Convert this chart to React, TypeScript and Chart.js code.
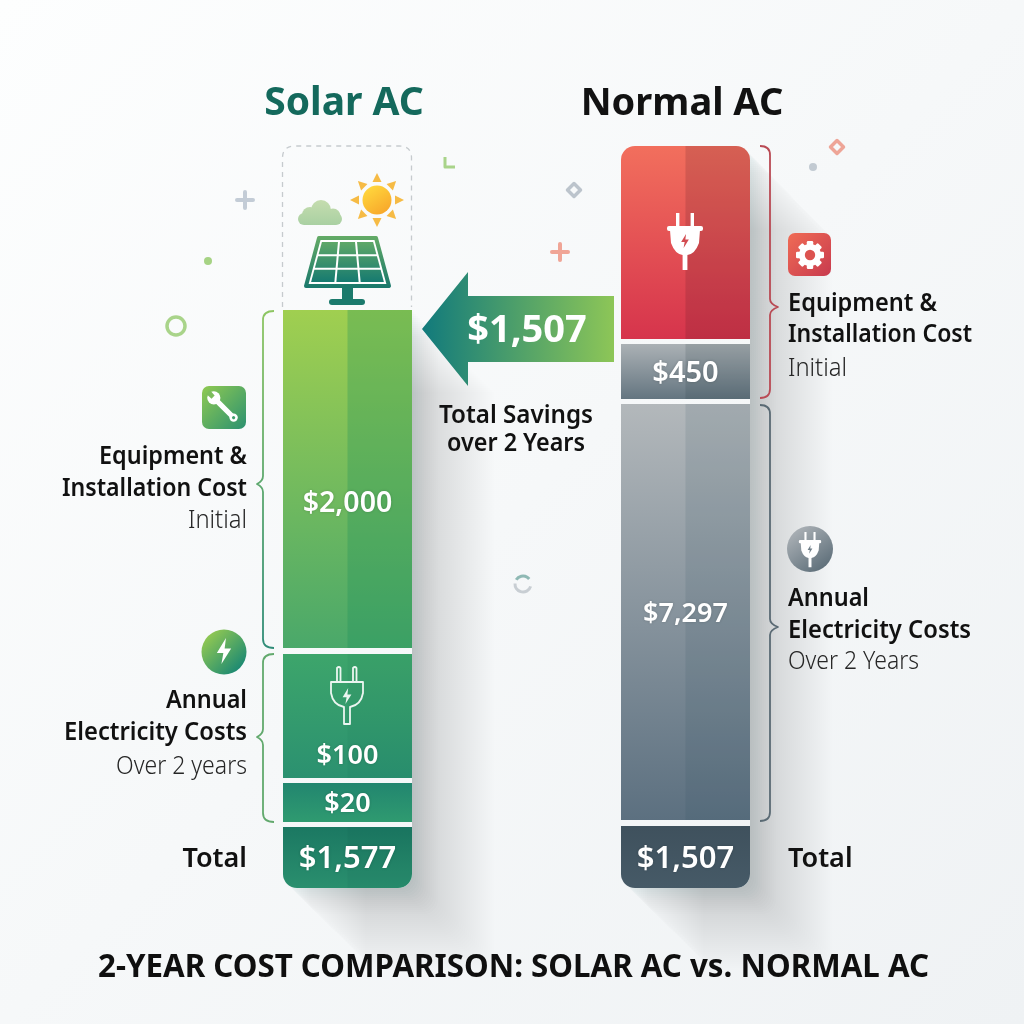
import React, { useEffect, useRef } from "react";
import { Chart, registerables } from "chart.js";
Chart.register(...registerables);

// Visible lengths of the bar segments, bottom to top
// (the infographic's bars are not proportional to their printed amounts).
const categories = ["Solar AC", "Normal AC"];
const solarLengths = [61, 39, 124, 338];
const normalLengths = [62, 416, 55, 193];
const solarGaps = [5, 5, 6];
const normalGaps = [6, 5, 5];
const solarLabels = ["$1,577", "$20", "$100", "$2,000"];
const normalLabels = ["$1,507", "$7,297", "$450", ""];
const solarLabelShift = [0, 0, 38, 23];
const normalLabelShift = [0, 0, 0, 0];
const solarLabelSize = [31, 27, 27, 28.5];
const normalLabelSize = [31, 27, 29, 27];
const solarGradients = [
  ["#1b7862", "#2a8f6e"],
  ["#22866f", "#2f9a70"],
  ["#3da56b", "#2b9170"],
  ["#a0cf50", "#4aa86a"],
];
const normalGradients = [
  ["#3f515d", "#465a67"],
  ["#b3b8bb", "#5c7080"],
  ["#abb1b5", "#647580"],
  ["#f26f5d", "#d6344c"],
];
const solarOverlay = ["rgba(0,60,50,0.05)", "rgba(0,60,50,0.0)", "rgba(0,70,60,0.05)", "rgba(20,140,90,0.28)"];
const normalOverlay = ["rgba(0,0,0,0.0)", "rgba(40,70,90,0.12)", "rgba(30,50,60,0.14)", "rgba(70,20,30,0.16)"];

const SANS = "'Noto Sans', 'Open Sans', sans-serif";

function spans(lengths: number[], gaps: number[]) {
  let at = 0;
  return lengths.map((len, i) => {
    const s: [number, number] = [at, at + len];
    at += len + (gaps[i] || 0);
    return s;
  });
}
const solarSpans = spans(solarLengths, solarGaps);
const normalSpans = spans(normalLengths, normalGaps);

function radii(barIndex: number, seg: number) {
  const r = 14;
  if (seg === 0) return { topLeft: 0, topRight: 0, bottomLeft: r, bottomRight: r };
  if (seg === 3 && barIndex === 1) return { topLeft: r, topRight: r, bottomLeft: 0, bottomRight: 0 };
  return 0;
}

type C = CanvasRenderingContext2D;

function text(c: C, s: string, x: number, y: number, font: string, color: string, align: CanvasTextAlign = "left", maxWidth?: number) {
  c.font = font;
  c.fillStyle = color;
  c.textAlign = align;
  c.textBaseline = "middle";
  if (maxWidth) c.fillText(s, x, y + 2, maxWidth);
  else c.fillText(s, x, y + 2);
}

function lin(c: C, x0: number, y0: number, x1: number, y1: number, a: string, b: string) {
  const g = c.createLinearGradient(x0, y0, x1, y1);
  g.addColorStop(0, a);
  g.addColorStop(1, b);
  return g;
}

function brace(c: C, endX: number, spineX: number, tipX: number, top: number, tip: number, bottom: number, stroke: string | CanvasGradient) {
  const r = 9;
  c.beginPath();
  c.moveTo(endX, top);
  c.quadraticCurveTo(spineX, top, spineX, top + r);
  c.lineTo(spineX, tip - 8);
  c.quadraticCurveTo(spineX, tip - 3, tipX, tip);
  c.quadraticCurveTo(spineX, tip + 3, spineX, tip + 8);
  c.lineTo(spineX, bottom - r);
  c.quadraticCurveTo(spineX, bottom, endX, bottom);
  c.strokeStyle = stroke;
  c.lineWidth = 1.8;
  c.stroke();
}

function plus(c: C, x: number, y: number, arm: number, color: string) {
  c.strokeStyle = color;
  c.lineWidth = 4;
  c.lineCap = "round";
  c.beginPath();
  c.moveTo(x - arm, y);
  c.lineTo(x + arm, y);
  c.moveTo(x, y - arm);
  c.lineTo(x, y + arm);
  c.stroke();
  c.lineCap = "butt";
}

function dot(c: C, x: number, y: number, r: number, color: string | CanvasGradient) {
  c.fillStyle = color;
  c.beginPath();
  c.arc(x, y, r, 0, Math.PI * 2);
  c.fill();
}

function diamond(c: C, x: number, y: number, r: number, color: string) {
  c.strokeStyle = color;
  c.lineWidth = 3.5;
  c.lineJoin = "round";
  c.beginPath();
  c.moveTo(x, y - r);
  c.lineTo(x + r, y);
  c.lineTo(x, y + r);
  c.lineTo(x - r, y);
  c.closePath();
  c.stroke();
}

function bolt(c: C, x: number, y: number, s: number, color: string) {
  c.fillStyle = color;
  c.beginPath();
  c.moveTo(x + 0.15 * s, y - s);
  c.lineTo(x - 0.55 * s, y + 0.15 * s);
  c.lineTo(x - 0.05 * s, y + 0.15 * s);
  c.lineTo(x - 0.2 * s, y + s);
  c.lineTo(x + 0.55 * s, y - 0.2 * s);
  c.lineTo(x + 0.05 * s, y - 0.2 * s);
  c.closePath();
  c.fill();
}

function solidPlug(c: C, x: number, y: number, k: number, color: string, boltColor: string) {
  c.fillStyle = color;
  c.fillRect(x - 9 * k, y, 3.4 * k, 14 * k);
  c.fillRect(x + 5.6 * k, y, 3.4 * k, 14 * k);
  c.beginPath();
  c.roundRect(x - 18 * k, y + 13 * k, 36 * k, 5 * k, 2 * k);
  c.fill();
  c.beginPath();
  c.moveTo(x - 15 * k, y + 17 * k);
  c.lineTo(x + 15 * k, y + 17 * k);
  c.lineTo(x + 14 * k, y + 30 * k);
  c.quadraticCurveTo(x + 10 * k, y + 41 * k, x + 2.4 * k, y + 42 * k);
  c.lineTo(x + 2.4 * k, y + 57 * k);
  c.lineTo(x - 2.4 * k, y + 57 * k);
  c.lineTo(x - 2.4 * k, y + 42 * k);
  c.quadraticCurveTo(x - 10 * k, y + 41 * k, x - 14 * k, y + 30 * k);
  c.closePath();
  c.fill();
  bolt(c, x, y + 28 * k, 7 * k, boltColor);
}

function outlinePlug(c: C, x: number, y: number) {
  c.strokeStyle = "rgba(255,255,255,0.9)";
  c.lineWidth = 1.8;
  c.lineJoin = "round";
  c.beginPath();
  c.moveTo(x - 10, y + 15);
  c.lineTo(x - 10, y + 1);
  c.quadraticCurveTo(x - 8, y - 1, x - 6.5, y + 1);
  c.lineTo(x - 6.5, y + 15);
  c.moveTo(x + 6, y + 15);
  c.lineTo(x + 6, y + 1);
  c.quadraticCurveTo(x + 8, y - 1, x + 9.5, y + 1);
  c.lineTo(x + 9.5, y + 15);
  c.moveTo(x - 16, y + 15);
  c.lineTo(x + 16, y + 15);
  c.lineTo(x + 16, y + 26);
  c.quadraticCurveTo(x + 14, y + 38, x + 3, y + 40);
  c.lineTo(x + 3, y + 57);
  c.lineTo(x - 3, y + 57);
  c.lineTo(x - 3, y + 40);
  c.quadraticCurveTo(x - 14, y + 38, x - 16, y + 26);
  c.closePath();
  c.stroke();
  bolt(c, x, y + 29, 8, "rgba(255,255,255,0.9)");
}

function gear(c: C, x: number, y: number) {
  c.fillStyle = "#fff";
  for (let i = 0; i < 8; i++) {
    c.save();
    c.translate(x, y);
    c.rotate((i * Math.PI) / 4);
    c.beginPath();
    c.roundRect(-3.2, -14, 6.4, 8, 1.2);
    c.fill();
    c.restore();
  }
  dot(c, x, y, 11, "#fff");
  dot(c, x, y, 5.2, "#dc5350");
}

function wrench(c: C, x: number, y: number) {
  c.save();
  c.translate(x, y);
  c.rotate(Math.PI / 4);
  c.fillStyle = "#fff";
  c.beginPath();
  c.roundRect(-13, -2.6, 30, 5.2, 2.5);
  c.fill();
  dot(c, 15, 0, 4.2, "#fff");
  dot(c, 15, 0, 1.6, "#3f9f6c");
  dot(c, -13, 0, 6.6, "#fff");
  c.fillStyle = "#7dbd5c";
  c.beginPath();
  c.moveTo(-21, -2.6);
  c.lineTo(-14, -2.2);
  c.lineTo(-14, 2.2);
  c.lineTo(-21, 2.6);
  c.closePath();
  c.fill();
  c.restore();
}

function sun(c: C, x: number, y: number) {
  for (let i = 0; i < 8; i++) {
    c.save();
    c.translate(x, y);
    c.rotate((i * Math.PI) / 4);
    c.fillStyle = "#f6bb45";
    c.beginPath();
    c.moveTo(-4.5, -18);
    c.lineTo(4.5, -18);
    c.lineTo(0, -27);
    c.closePath();
    c.fill();
    c.restore();
  }
  dot(c, x, y, 14.5, lin(c, x - 8, y - 12, x + 8, y + 12, "#ffd53c", "#f8a92b"));
}

function cloud(c: C, x: number, y: number) {
  const g = lin(c, x, y - 14, x, y + 10, "#c3dcae", "#a8d0a2");
  c.fillStyle = g;
  c.beginPath();
  c.roundRect(x - 22, y - 3, 44, 12, 6);
  c.fill();
  dot(c, x - 10, y - 1, 8, g);
  dot(c, x + 1, y - 6, 10, g);
  dot(c, x + 13, y, 7.5, g);
}

function panel(c: C) {
  const frame = lin(c, 0, 237, 0, 290, "#62aa66", "#16766c");
  const T = 238, B = 286, TL = 319, TR = 376, BL = 306, BR = 389;
  c.strokeStyle = frame;
  c.fillStyle = "#fff";
  c.lineWidth = 4;
  c.lineJoin = "round";
  c.beginPath();
  c.moveTo(TL, T);
  c.lineTo(TR, T);
  c.lineTo(BR, B);
  c.lineTo(BL, B);
  c.closePath();
  c.fill();
  c.stroke();
  const lerp = (a: number, b: number, t: number) => a + (b - a) * t;
  const rows = [0, 0.33, 0.67, 1];
  const pad = 2;
  const top = T + 4, bot = B - 4;
  c.fillStyle = lin(c, 0, top, 0, bot, "#5fa868", "#167a70");
  for (let r = 0; r < 3; r++) {
    const y0 = lerp(top, bot, rows[r]) + (r ? 1 : 0);
    const y1 = lerp(top, bot, rows[r + 1]) - (r < 2 ? 1 : 0);
    const t0 = (y0 - T) / (B - T), t1 = (y1 - T) / (B - T);
    const l0 = lerp(TL, BL, t0) + pad + 2, r0 = lerp(TR, BR, t0) - pad - 2;
    const l1 = lerp(TL, BL, t1) + pad + 2, r1 = lerp(TR, BR, t1) - pad - 2;
    for (let k = 0; k < 3; k++) {
      const a = k / 3, b = (k + 1) / 3;
      const g = 1;
      c.beginPath();
      c.moveTo(lerp(l0, r0, a) + (k ? g : 0), y0);
      c.lineTo(lerp(l0, r0, b) - (k < 2 ? g : 0), y0);
      c.lineTo(lerp(l1, r1, b) - (k < 2 ? g : 0), y1);
      c.lineTo(lerp(l1, r1, a) + (k ? g : 0), y1);
      c.closePath();
      c.fill();
    }
  }
  c.fillStyle = "#1b7a6c";
  c.fillRect(342, 288, 11, 12);
  c.beginPath();
  c.roundRect(329, 299, 36, 6, 3);
  c.fill();
}

const artwork = {
  id: "artwork",
  beforeDraw(chart: Chart) {
    const c = chart.ctx;
    c.save();
    c.fillStyle = lin(c, 0, 0, 1024, 1024, "#fdfefe", "#eff2f4");
    c.fillRect(0, 0, 1024, 1024);
    c.restore();
  },
  beforeDatasetsDraw(chart: Chart) {
    const c = chart.ctx;
    c.save();
    chart.data.labels!.forEach((_, i) => {
      const bottomEl: any = chart.getDatasetMeta(0).data[i];
      const topEl: any = chart.getDatasetMeta(3).data[i];
      const x0 = bottomEl.x - bottomEl.width / 2;
      const w = bottomEl.width;
      const top = Math.min(topEl.y, topEl.base);
      const bot = Math.max(bottomEl.y, bottomEl.base);
      const h = bot - top;
      const topR = i === 1 ? 14 : 0;
      const outline: [number, number, number, number] = [topR, topR, 14, 14];
      // soft long shadow: the bar's outline swept along the diagonal, never over the bar itself
      c.save();
      c.beginPath();
      c.rect(0, 0, 1024, 1024);
      c.roundRect(x0, top, w, h, outline);
      c.clip("evenodd");
      const L = 100;
      for (let d = L; d > 0; d -= 2) {
        const f = 1 - d / L;
        c.fillStyle = `rgba(90,105,120,${(0.016 * f * f + 0.0015).toFixed(4)})`;
        c.beginPath();
        c.roundRect(x0 + d, top + d, w, h, outline);
        c.fill();
      }
      c.restore();
    });
    c.restore();
  },
  afterDatasetsDraw(chart: Chart) {
    const c = chart.ctx;
    c.save();
    const labelSets = [solarLabels, normalLabels];
    const shifts = [solarLabelShift, normalLabelShift];
    const sizes = [solarLabelSize, normalLabelSize];
    const overlays = [solarOverlay, normalOverlay];
    for (let seg = 0; seg < 4; seg++) {
      const meta = chart.getDatasetMeta(seg);
      meta.data.forEach((el: any, i: number) => {
        const t = Math.min(el.y, el.base), b = Math.max(el.y, el.base);
        const rad: any = radii(i, seg);
        c.fillStyle = overlays[i][seg];
        c.beginPath();
        if (rad) c.roundRect(el.x, t, el.width / 2, b - t, [0, rad.topRight, rad.bottomRight, 0]);
        else c.rect(el.x, t, el.width / 2, b - t);
        c.fill();
        const lab = labelSets[i][seg];
        if (lab) {
          c.save();
          c.shadowColor = "rgba(0,0,0,0.18)";
          c.shadowBlur = 3;
          text(c, lab, el.x, (t + b) / 2 + shifts[i][seg], `600 ${sizes[i][seg]}px ${SANS}`, "#fff", "center");
          c.restore();
        }
      });
    }

    text(c, categories[0], 344, 102, `700 39px ${SANS}`, "#14695c", "center");
    text(c, categories[1], 682, 102, `700 38px ${SANS}`, "#121212", "center");

    c.setLineDash([5, 5]);
    c.strokeStyle = "#c6cbce";
    c.lineWidth = 1.3;
    c.beginPath();
    c.moveTo(282.5, 307);
    c.lineTo(282.5, 158);
    c.quadraticCurveTo(282.5, 146, 295, 146);
    c.lineTo(399, 146);
    c.quadraticCurveTo(411.5, 146, 411.5, 158);
    c.lineTo(411.5, 307);
    c.stroke();
    c.setLineDash([]);

    sun(c, 377, 200);
    cloud(c, 320, 216);
    panel(c);

    solidPlug(c, 685, 213, 1, "#fff", "#d24b50");
    outlinePlug(c, 347, 667);

    c.fillStyle = lin(c, 422, 0, 614, 0, "#117a7c", "#8dc657");
    c.beginPath();
    c.moveTo(422, 329);
    c.lineTo(468, 272);
    c.lineTo(468, 296);
    c.lineTo(614, 296);
    c.lineTo(614, 362);
    c.lineTo(468, 362);
    c.lineTo(468, 386);
    c.closePath();
    c.fill();
    text(c, "$1,507", 527, 329, `700 38px ${SANS}`, "#fff", "center");

    const bold = `600 26px ${SANS}`;
    const total = `600 27px ${SANS}`;
    const light = `300 25px ${SANS}`;
    const ink = "#111";
    const soft = "#262626";

    text(c, "Total Savings", 516, 414, bold, ink, "center", 154);
    text(c, "over 2 Years", 516, 442, bold, ink, "center", 138);

    brace(c, 274, 263, 257, 311, 484, 648, lin(c, 0, 311, 0, 648, "#8ec663", "#2f8c78"));
    brace(c, 274, 263, 257, 654, 737, 822, "#62a96d");
    brace(c, 760, 770, 778, 146, 307, 398, "#b94a54");
    brace(c, 760, 770, 778, 405, 627, 821, "#5a6a74");

    c.fillStyle = lin(c, 202, 386, 246, 429, "#90ca52", "#2b9170");
    c.beginPath();
    c.roundRect(202, 386, 44, 43, 7);
    c.fill();
    wrench(c, 223, 407);

    c.fillStyle = lin(c, 788, 233, 831, 276, "#f06c55", "#c83a4e");
    c.beginPath();
    c.roundRect(788, 233, 43, 43, 7);
    c.fill();
    gear(c, 810, 255);

    dot(c, 224, 652, 22.5, lin(c, 208, 636, 240, 668, "#8fc753", "#1d8a72"));
    bolt(c, 224, 651, 13, "#fff");

    dot(c, 810, 549, 23, lin(c, 795, 530, 825, 570, "#aab0b5", "#5c6d78"));
    solidPlug(c, 810, 532, 0.62, "#fff", "#6f7e88");

    text(c, "Equipment &", 247, 455, bold, ink, "right", 148);
    text(c, "Installation Cost", 247, 487, bold, ink, "right", 185);
    text(c, "Initial", 247, 519, light, soft, "right", 59);
    text(c, "Annual", 247, 699, bold, ink, "right", 81);
    text(c, "Electricity Costs", 247, 731, bold, ink, "right", 183);
    text(c, "Over 2 years", 247, 765, light, soft, "right", 131);
    text(c, "Total", 247, 857, total, ink, "right");

    text(c, "Equipment &", 788, 302, bold, ink, "left", 149);
    text(c, "Installation Cost", 788, 333, bold, ink, "left", 184);
    text(c, "Initial", 788, 367, light, soft, "left", 59);
    text(c, "Annual", 788, 597, bold, ink, "left", 81);
    text(c, "Electricity Costs", 788, 629, bold, ink, "left", 183);
    text(c, "Over 2 Years", 788, 660, light, soft, "left", 131);
    text(c, "Total", 788, 857, total, ink, "left");

    text(c, "2-YEAR COST COMPARISON: SOLAR AC vs. NORMAL AC", 513.5, 966, `700 32px ${SANS}`, "#0f0f0f", "center", 831);

    plus(c, 245, 200, 8, "#c3ccd6");
    dot(c, 208, 261, 4, "#a6d384");
    c.strokeStyle = "#a9d48a";
    c.lineWidth = 3.5;
    c.beginPath();
    c.arc(176, 326, 9, 0, Math.PI * 2);
    c.stroke();
    c.lineWidth = 3;
    c.beginPath();
    c.moveTo(445, 157);
    c.lineTo(445, 167);
    c.lineTo(455, 167);
    c.stroke();
    diamond(c, 574, 190, 6.5, "#bcc4cc");
    plus(c, 560, 252, 8, "#f0a596");
    diamond(c, 837, 147, 6.5, "#eea597");
    dot(c, 813, 167, 4, "#c2cad2");
    c.lineWidth = 3;
    c.strokeStyle = "#c8ced3";
    c.beginPath();
    c.arc(523, 584, 8, 0.3, 3.2);
    c.stroke();
    c.strokeStyle = "#8fb9b4";
    c.beginPath();
    c.arc(523, 584, 8, 3.7, 5.6);
    c.stroke();
    c.restore();
  },
};

export default function App() {
  const ref = useRef<HTMLCanvasElement | null>(null);
  useEffect(() => {
    document.body.style.margin = "0";
    const grads = [solarGradients, normalGradients];
    const datasets = [0, 1, 2, 3].map((seg) => ({
      label: `segment ${seg}`,
      data: [solarSpans[seg], normalSpans[seg]],
      backgroundColor: (ctx: any) => {
        const pair = grads[ctx.dataIndex ?? 0][seg];
        const y = ctx.chart.scales.y;
        const raw = ctx.raw;
        if (!y || !Array.isArray(raw)) return pair[0];
        const p0 = y.getPixelForValue(raw[1]);
        const p1 = y.getPixelForValue(raw[0]);
        if (!Number.isFinite(p0) || !Number.isFinite(p1)) return pair[0];
        const g = ctx.chart.ctx.createLinearGradient(0, p0, 0, p1);
        g.addColorStop(0, pair[0]);
        g.addColorStop(1, pair[1]);
        return g;
      },
      borderWidth: 0,
      borderSkipped: false,
      borderRadius: (ctx: any) => radii(ctx.dataIndex ?? 0, seg),
      grouped: false,
      barPercentage: 129 / 338,
      categoryPercentage: 1,
    }));
    const chart = new Chart(ref.current!, {
      type: "bar",
      data: { labels: categories, datasets: datasets as any },
      options: {
        responsive: false,
        animation: false,
        layout: { padding: { left: 178.5, right: 169.5, top: 0, bottom: 0 } },
        plugins: { legend: { display: false }, tooltip: { enabled: false }, title: { display: false } },
        scales: {
          x: { display: false, grid: { display: false } },
          y: { display: false, min: -136, max: 888, grid: { display: false } },
        },
      },
      plugins: [artwork as any],
    });
    return () => chart.destroy();
  }, []);
  return <canvas ref={ref} width={1024} height={1024} style={{ display: "block" }} />;
}
